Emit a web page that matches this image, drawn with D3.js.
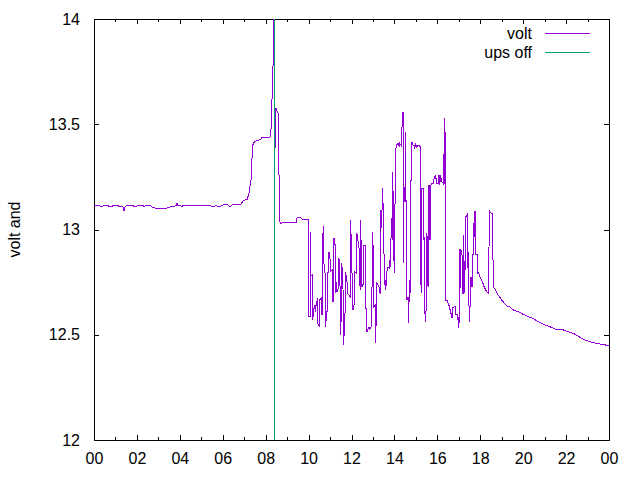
<!DOCTYPE html>
<html><head><meta charset="utf-8">
<script src="https://cdn.jsdelivr.net/npm/d3@7"></script>
<style>
html,body{margin:0;padding:0;background:#fff;}
svg text{font-family:"Liberation Sans",Arial,sans-serif;}
</style></head>
<body><svg id="chart" width="640" height="480"></svg>
<script>
// time of day in minutes, and measured voltage
const voltMinutes = [
0,17,20,28,39,42,50,53,67,70,81,84,87,92,109,112,123,137,140,145,157,162,176,199,213,229,232,235,240,246,249,324,333,341,350,358,366,375,380,389,411,417,428,433,439,442,445,453,467,470,492,495,498,501,502,503,505,506,508,509,512,515,517,520,523,526,565,568,576,582,593,598,
601,601,605,605,605,610,610,614,614,618,618,625,625,631,631,635,635,639,639,643,643,647,647,652,652,657,657,661,661,666,666,671,671,675,675,679,679,685,685,688,688,693,693,698,698,703,703,709,709,716,716,720,720,724,724,728,728,735,735,741,741,745,745,749,749,754,754,759,759,763,763,769,769,775,775,779,779,782,782,787,787,791,791,797,797,
801,801,804,804,807,810,812,815,815,818,818,822,826,826,829,829,832,835,835,837,837,840,843,846,850,854,854,858,861,861,864,864,867,867,870,870,872,872,875,875,878,878,881,881,884,884,886,886,889,889,892,895,895,898,898,900,903,903,907,912,912,914,914,917,917,920,920,923,923,926,926,928,928,931,931,934,934,937,937,940,940,942,945,948,951,954,956,959,959,962,962,965,965,967,967,970,970,973,973,976,976,979,979,981,981,984,984,987,990,990,993,993,995,995,998,998,1001,1001,1004,1004,1008,1012,1012,1015,1015,1018,1018,1021,1021,
1023,1023,1026,1026,1029,1029,1032,1032,1035,1035,1037,1037,1040,1040,1043,1043,1046,1046,1049,1049,1051,1051,1054,1054,1057,1057,1060,1060,1062,1062,1065,1065,1068,1068,1071,1071,1074,1077,1079,1082,1085,1088,1090,1093,1096,1099,1102,1104,1104,1107,1110,1113,1116,1118,1121,1130,1140,1154,1163,1172,1186,1200,1214,1228,1242,1256,1275,1289,1312,1326,1340,1359,1373,1387,1406,1431,1440
];
const voltValues = [
13.114,13.112,13.107,13.114,13.114,13.107,13.107,13.114,13.114,13.107,13.107,13.088,13.107,13.114,13.114,13.107,13.114,13.114,13.107,13.114,13.114,13.107,13.100,13.100,13.107,13.112,13.124,13.114,13.114,13.109,13.114,13.114,13.107,13.114,13.107,13.114,13.121,13.116,13.108,13.121,13.121,13.137,13.143,13.169,13.235,13.344,13.412,13.420,13.428,13.439,13.439,13.476,13.631,13.805,14.000,13.924,14.000,13.373,13.577,13.577,13.560,13.553,13.287,13.037,13.026,13.032,13.032,13.059,13.059,13.050,13.048,13.048,
13.050,12.586,12.586,12.990,12.779,12.784,12.570,12.594,12.618,12.641,12.608,12.675,12.556,12.537,12.665,12.673,12.594,12.594,12.966,13.017,12.839,12.776,12.538,12.618,12.793,12.800,12.895,12.847,12.800,12.808,12.657,12.657,12.958,12.918,12.697,12.752,12.704,12.728,12.863,12.728,12.499,12.618,12.839,12.649,12.451,12.649,12.800,12.736,12.697,12.681,13.045,12.942,12.831,12.726,12.618,12.649,12.800,12.792,12.982,12.911,12.776,12.713,13.045,12.808,12.728,12.744,12.926,12.926,12.626,12.626,12.514,12.538,12.523,12.538,12.673,12.760,12.990,12.823,12.633,12.641,12.459,12.665,12.744,12.728,12.704,
12.697,13.093,13.069,13.007,13.196,13.007,12.736,12.760,12.713,12.752,12.793,12.823,12.816,12.855,12.823,12.871,13.053,12.950,13.275,13.101,12.950,12.792,13.378,13.401,13.410,13.393,13.410,13.401,13.393,13.481,13.560,12.839,13.203,13.132,13.132,13.465,13.441,13.140,13.140,12.665,12.681,12.554,12.665,12.760,12.704,12.982,12.697,13.235,13.235,13.417,13.401,13.401,13.386,13.393,13.410,13.401,13.401,13.393,13.401,13.393,12.918,13.061,12.744,12.697,13.196,13.196,12.950,12.966,12.602,12.602,12.562,12.570,12.602,12.697,12.982,12.728,13.211,13.211,12.966,12.950,13.211,13.211,13.219,13.219,13.243,13.254,13.243,13.235,13.219,13.219,13.235,13.259,13.211,13.227,13.251,13.259,13.235,13.243,13.227,13.219,13.251,13.370,13.219,13.219,13.528,13.108,12.665,12.665,12.649,12.641,12.641,12.626,12.626,12.618,12.618,12.602,12.602,12.578,12.633,12.626,12.633,12.633,12.594,12.594,12.570,12.578,12.531,12.562,12.816,
12.906,12.713,12.776,12.906,12.879,12.697,12.697,12.974,12.831,12.728,12.697,12.816,12.808,13.061,13.069,12.816,12.895,12.665,12.633,12.586,12.562,12.633,12.633,12.776,12.728,12.879,12.879,13.029,12.982,12.958,12.982,13.085,13.085,12.879,12.879,12.792,12.795,12.786,12.777,12.765,12.755,12.742,12.731,12.720,12.711,12.703,12.700,12.697,12.887,13.085,13.077,13.077,12.831,12.722,12.720,12.689,12.665,12.637,12.633,12.618,12.610,12.597,12.586,12.578,12.562,12.550,12.538,12.527,12.523,12.514,12.507,12.488,12.475,12.467,12.459,12.451,12.451
];
// UPS-off marker series
const upsMinutes = [503, 504, 506];
const upsValues = [0, 13.0, 20];

const xTickMinutes = [0,120,240,360,480,600,720,840,960,1080,1200,1320,1440];
const xTickLabels = ["00","02","04","06","08","10","12","14","16","18","20","22","00"];
const xMinorMinutes = [60,180,300,420,540,660,780,900,1020,1140,1260,1380];
const yTickValues = [12, 12.5, 13, 13.5, 14];
const yTickLabels = ["12","12.5","13","13.5","14"];
const seriesNames = ["volt", "ups off"];
const seriesColors = ["#9400d3", "#009e73"];

const svg = d3.select("#chart");
const L = 94, R = 609, T = 19, B = 440;
const x = d3.scaleLinear().domain([0, 1440]).range([L, R]);
const y = d3.scaleLinear().domain([12, 14]).range([B, T]);

svg.append("defs").append("clipPath").attr("id", "clip")
  .append("rect").attr("x", L).attr("y", T).attr("width", R - L).attr("height", B - T);

function styleAxis(g) {
  g.select(".domain").remove();
  g.selectAll("line").attr("stroke", "#000").attr("shape-rendering", "crispEdges");
  g.selectAll("text").attr("font-size", 16).attr("fill", "#000");
}

// bottom axis (major, labels)
svg.append("g").attr("transform", `translate(0,${B})`)
  .call(d3.axisBottom(x).tickValues(xTickMinutes).tickSizeInner(-5).tickSizeOuter(0).tickPadding(13)
    .tickFormat((d, i) => xTickLabels[i]))
  .call(styleAxis);
svg.append("g").attr("transform", `translate(0,${B})`)
  .call(d3.axisBottom(x).tickValues(xMinorMinutes).tickSizeInner(-3).tickSizeOuter(0).tickFormat(""))
  .call(styleAxis);
// top axis (mirror)
svg.append("g").attr("transform", `translate(0,${T})`)
  .call(d3.axisTop(x).tickValues(xTickMinutes).tickSizeInner(-5).tickSizeOuter(0).tickFormat(""))
  .call(styleAxis);
svg.append("g").attr("transform", `translate(0,${T})`)
  .call(d3.axisTop(x).tickValues(xMinorMinutes).tickSizeInner(-3).tickSizeOuter(0).tickFormat(""))
  .call(styleAxis);
// left axis
svg.append("g").attr("transform", `translate(${L},0)`)
  .call(d3.axisLeft(y).tickValues(yTickValues).tickSizeInner(-5).tickSizeOuter(0).tickPadding(14)
    .tickFormat((d, i) => yTickLabels[i]))
  .call(styleAxis);
// right axis (mirror)
svg.append("g").attr("transform", `translate(${R},0)`)
  .call(d3.axisRight(y).tickValues(yTickValues).tickSizeInner(-5).tickSizeOuter(0).tickFormat(""))
  .call(styleAxis);

// border
svg.append("rect").attr("x", L).attr("y", T).attr("width", R - L).attr("height", B - T)
  .attr("fill", "none").attr("stroke", "#000").attr("shape-rendering", "crispEdges");

// y label
svg.append("text").attr("transform", `translate(20,${(T + B) / 2}) rotate(-90)`)
  .attr("text-anchor", "middle").attr("font-size", 16).text("volt and");

const line = d3.line().x(d => x(d[0])).y(d => y(d[1]));
const voltData = voltMinutes.map((m, i) => [m, voltValues[i]]);
const upsData = upsMinutes.map((m, i) => [m, upsValues[i]]);

const plot = svg.append("g").attr("clip-path", "url(#clip)");
plot.append("path").datum(voltData).attr("d", line)
  .attr("fill", "none").attr("stroke", seriesColors[0]).attr("stroke-width", 1)
  .attr("shape-rendering", "crispEdges");
plot.append("path").datum(upsData).attr("d", line)
  .attr("fill", "none").attr("stroke", seriesColors[1]).attr("stroke-width", 1)
  .attr("shape-rendering", "crispEdges");

// legend
const legY = [33, 52];
seriesNames.forEach((name, i) => {
  svg.append("text").attr("x", 532).attr("y", legY[i]).attr("dy", "0.35em")
    .attr("text-anchor", "end").attr("font-size", 16).text(name);
  svg.append("line").attr("x1", 545).attr("x2", 590).attr("y1", legY[i]).attr("y2", legY[i])
    .attr("stroke", seriesColors[i]).attr("stroke-width", 1).attr("shape-rendering", "crispEdges");
});
</script>
</body></html>
